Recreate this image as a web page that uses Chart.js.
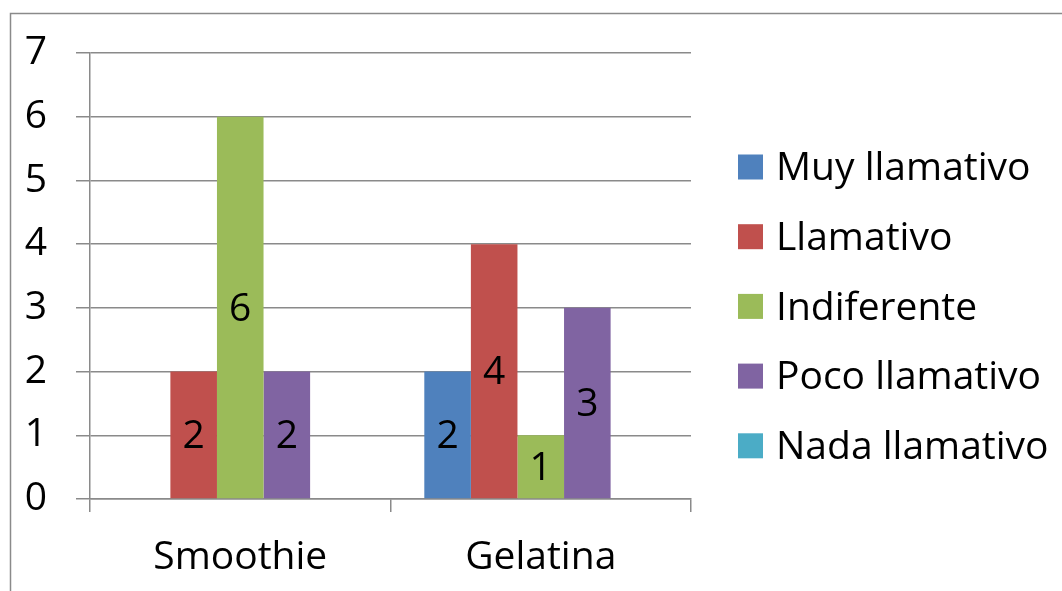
<!DOCTYPE html>
<html>
<head>
<meta charset="utf-8">
<script src="https://cdn.jsdelivr.net/npm/chart.js@4/dist/chart.umd.min.js"></script>
<style>
  html, body { margin: 0; padding: 0; background: #ffffff; }
  #wrap { width: 1062px; height: 591px; }
</style>
</head>
<body>
<div id="wrap"><canvas id="c" width="1062" height="591"></canvas></div>
<script>
// Categories and series values
const categories = ['Smoothie', 'Gelatina'];
const seriesNames = ['Muy llamativo', 'Llamativo', 'Indiferente', 'Poco llamativo', 'Nada llamativo'];
const muyLlamativo = [0, 2];
const llamativo = [2, 4];
const indiferente = [6, 1];
const pocoLlamativo = [2, 3];
const nadaLlamativo = [0, 0];
const yTicks = [0, 1, 2, 3, 4, 5, 6, 7];

const seriesValues = [muyLlamativo, llamativo, indiferente, pocoLlamativo, nadaLlamativo];
const seriesColors = ['#4F81BD', '#C0504D', '#9BBB59', '#8064A2', '#4BACC6'];

const FONT = '"Open Sans", "Liberation Sans", sans-serif';
const FONT_SIZE = 39;
const LINE = '#8a8a8a';

// Outer frame of the chart (left and top edges are inside the canvas)
const framePlugin = {
  id: 'frame',
  beforeDraw(chart) {
    const ctx = chart.ctx;
    ctx.save();
    ctx.strokeStyle = LINE;
    ctx.lineWidth = 1.5;
    ctx.beginPath();
    ctx.moveTo(10.5, chart.height);
    ctx.lineTo(10.5, 13.5);
    ctx.lineTo(chart.width, 13.5);
    ctx.stroke();
    ctx.restore();
  }
};

// Value labels centred inside each non-zero bar
const valueLabels = {
  id: 'valueLabels',
  afterDatasetsDraw(chart) {
    const ctx = chart.ctx;
    ctx.save();
    ctx.font = FONT_SIZE + 'px ' + FONT;
    ctx.fillStyle = '#000000';
    ctx.textAlign = 'center';
    ctx.textBaseline = 'middle';
    chart.data.datasets.forEach((ds, di) => {
      const meta = chart.getDatasetMeta(di);
      meta.data.forEach((bar, i) => {
        const v = ds.data[i];
        if (!v) return;
        const cy = (bar.y + bar.base) / 2 + 2;
        ctx.fillText(String(v), bar.x, cy);
      });
    });
    ctx.restore();
  }
};

// Legend on the right, one row per series
const sideLegend = {
  id: 'sideLegend',
  afterDraw(chart) {
    const ctx = chart.ctx;
    ctx.save();
    ctx.font = FONT_SIZE + 'px ' + FONT;
    ctx.textBaseline = 'middle';
    ctx.textAlign = 'left';
    const x0 = 738, box = 25, rowTop = 167, rowGap = 69.7;
    chart.data.datasets.forEach((ds, i) => {
      const cy = rowTop + i * rowGap;
      ctx.fillStyle = ds.backgroundColor;
      ctx.fillRect(x0, cy - box / 2, box, box);
      ctx.fillStyle = '#000000';
      ctx.fillText(ds.label, 776, cy + 2);
    });
    ctx.restore();
  }
};

const datasets = seriesNames.map((name, i) => ({
  label: name,
  data: seriesValues[i],
  backgroundColor: seriesColors[i],
  borderWidth: 0,
  barPercentage: 1.0,
  categoryPercentage: 0.775
}));

new Chart(document.getElementById('c'), {
  type: 'bar',
  data: { labels: categories, datasets: datasets },
  plugins: [framePlugin, valueLabels, sideLegend],
  options: {
    responsive: false,
    animation: false,
    devicePixelRatio: 1,
    layout: { padding: { left: 0, top: 53, right: 371, bottom: 0 } },
    plugins: {
      legend: { display: false },
      tooltip: { enabled: false },
      title: { display: false }
    },
    scales: {
      x: {
        offset: true,
        grid: {
          offset: true,
          drawOnChartArea: false,
          drawTicks: true,
          tickLength: 13,
          color: LINE,
          lineWidth: 1.5
        },
        border: { display: true, color: LINE, width: 1.5 },
        ticks: {
          color: '#000000',
          font: { family: FONT, size: FONT_SIZE },
          padding: 22,
          maxRotation: 0
        },
        afterFit(scale) { scale.height = 92; }
      },
      y: {
        min: yTicks[0],
        max: yTicks[yTicks.length - 1],
        afterBuildTicks(scale) { scale.ticks = yTicks.map(v => ({ value: v })); },
        grid: {
          drawTicks: true,
          tickLength: 14,
          color: LINE,
          lineWidth: 1.5
        },
        border: { display: true, color: LINE, width: 1.5 },
        ticks: {
          color: '#000000',
          font: { family: FONT, size: FONT_SIZE },
          padding: 29
        },
        afterFit(scale) { scale.width = 90; }
      }
    }
  }
});
</script>
</body>
</html>
